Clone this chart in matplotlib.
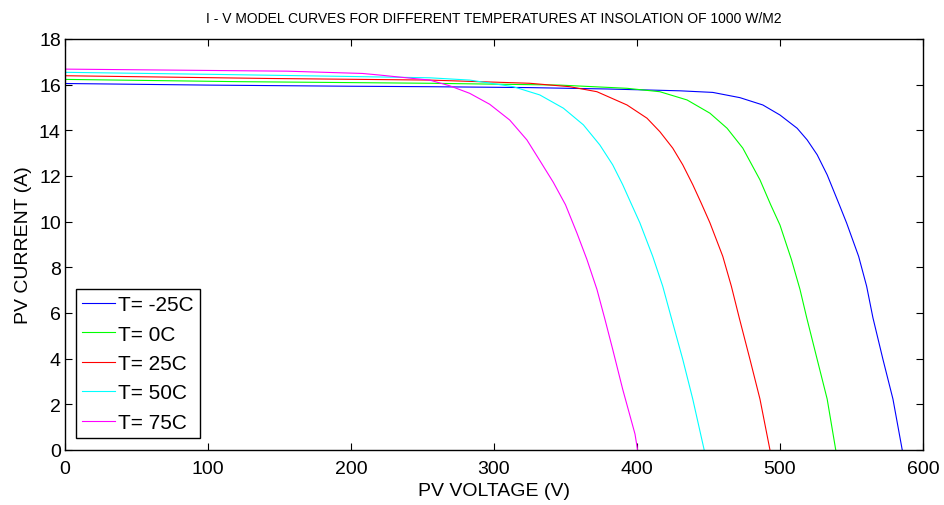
import numpy as np
import matplotlib
matplotlib.use("Agg")
import matplotlib.pyplot as plt

plt.rcParams['font.family'] = ['Liberation Sans', 'DejaVu Sans']

# curves (voltage V, current A)
v_m25 = [0, 100, 200, 255, 325, 379, 430, 453, 472, 488, 500, 512, 519, 526, 533, 541.5, 546.6, 555, 560.6, 565, 572, 579, 585.5]
i_m25 = [16.05, 15.98, 15.93, 15.91, 15.87, 15.81, 15.73, 15.66, 15.43, 15.11, 14.67, 14.09, 13.58, 12.93, 12.05, 10.74, 9.94, 8.48, 7.17, 5.79, 3.97, 2.23, 0]

v_0 = [0, 122, 255, 325, 346, 393, 416, 435, 451, 463, 474, 486, 493.5, 500, 508, 514, 518.7, 526, 533, 539]
i_0 = [16.23, 16.13, 16.06, 16.0, 15.98, 15.84, 15.69, 15.33, 14.75, 14.09, 13.22, 11.83, 10.74, 9.85, 8.34, 7.03, 5.79, 3.97, 2.23, 0]

v_25 = [0, 143, 255, 325, 353, 372, 393, 407, 416, 425, 432, 439, 445, 451, 460, 466, 471.5, 479, 486, 493]
i_25 = [16.39, 16.27, 16.2, 16.06, 15.91, 15.69, 15.11, 14.53, 13.94, 13.22, 12.49, 11.62, 10.8, 9.95, 8.48, 7.17, 5.79, 3.97, 2.23, 0]

v_50 = [0, 104, 197, 255, 283, 313.5, 332, 348.5, 362.5, 374, 383, 390, 395, 402, 411, 418, 424, 432, 439, 447]
i_50 = [16.54, 16.45, 16.36, 16.3, 16.2, 15.91, 15.55, 14.97, 14.24, 13.36, 12.49, 11.62, 10.92, 9.95, 8.48, 7.17, 5.79, 3.97, 2.23, 0]

v_75 = [0, 155, 208, 220, 243.5, 255, 269, 283, 297, 311, 323, 332, 341.5, 350, 358, 365, 372, 377.6, 383, 390, 398.6, 400.4]
i_75 = [16.68, 16.59, 16.49, 16.42, 16.27, 16.2, 15.95, 15.62, 15.14, 14.45, 13.58, 12.68, 11.72, 10.74, 9.5, 8.34, 7.03, 5.72, 4.41, 2.66, 0.7, 0]

labels = ['T= -25C', 'T= 0C', 'T= 25C', 'T= 50C', 'T= 75C']
colors = ['#0000ff', '#00ff00', '#ff0000', '#00ffff', '#ff00ff']
xticks = [0, 100, 200, 300, 400, 500, 600]
yticks = [0, 2, 4, 6, 8, 10, 12, 14, 16, 18]

fig = plt.figure(figsize=(9.45, 5.06), dpi=100)
ax = fig.add_axes([0.0688, 0.1087, 0.9079, 0.8123])

curves = [(v_m25, i_m25), (v_0, i_0), (v_25, i_25), (v_50, i_50), (v_75, i_75)]
for (v, i), lab, c in zip(curves, labels, colors):
    ax.plot(v, i, color=c, lw=0.8, label=lab)

ax.set_xlim(0, 600)
ax.set_ylim(0, 18)
ax.set_xticks(xticks)
ax.set_yticks(yticks)
ax.tick_params(direction='in', top=True, right=True, labelsize=14, length=5)
ax.tick_params(axis='x', pad=7)
ax.tick_params(axis='y', pad=3)
for s in ax.spines.values():
    s.set_linewidth(1.0)

ax.set_xlabel('PV VOLTAGE (V)', fontsize=14, labelpad=4)
ax.set_ylabel('PV CURRENT (A)', fontsize=14, labelpad=5)
ax.set_title('I - V MODEL CURVES FOR DIFFERENT TEMPERATURES AT INSOLATION OF 1000 W/M2',
             fontsize=10, pad=12)

leg = ax.legend(loc='lower left', bbox_to_anchor=(0.013, 0.029), borderaxespad=0,
                fontsize=15, fancybox=False, framealpha=1, edgecolor='black',
                handlelength=1.55, handletextpad=0.15, labelspacing=0.5,
                borderpad=0.3)
leg.get_frame().set_linewidth(1.0)

fig.savefig('out.png', dpi=100)
